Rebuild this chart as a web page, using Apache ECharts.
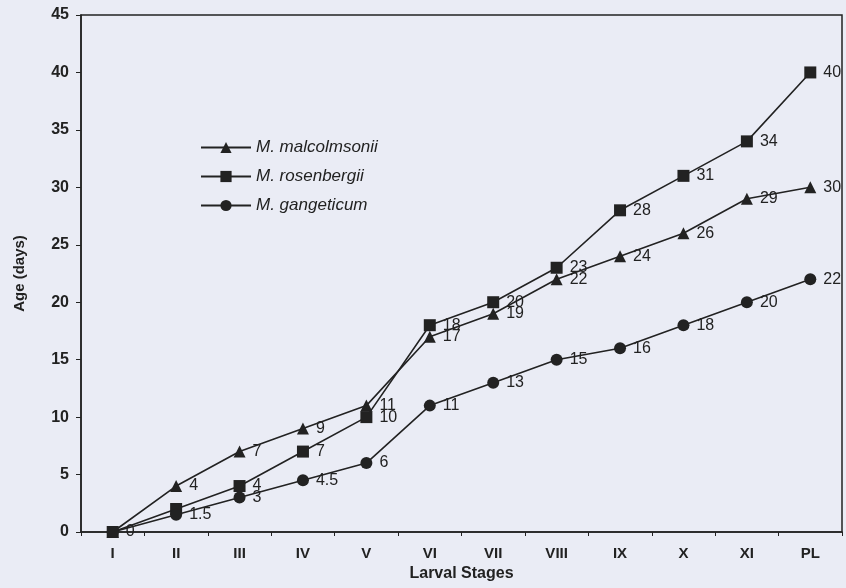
<!DOCTYPE html>
<html>
<head>
<meta charset="utf-8">
<script src="https://cdn.jsdelivr.net/npm/echarts@6/dist/echarts.min.js"></script>
<style>
  html, body { margin: 0; padding: 0; background: #eaecf5; }
  #chart { width: 846px; height: 588px; }
</style>
</head>
<body>
<div id="chart"></div>
<script>
// larval stages on the x axis
const stages = ['I', 'II', 'III', 'IV', 'V', 'VI', 'VII', 'VIII', 'IX', 'X', 'XI', 'PL']
// age (days) for each species
const malcolmsonii = [0, 4, 7, 9, 11, 17, 19, 22, 24, 26, 29, 30]
const rosenbergii = [0, 2, 4, 7, 10, 18, 20, 23, 28, 31, 34, 40]
const gangeticum = [0, 1.5, 3, 4.5, 6, 11, 13, 15, 16, 18, 20, 22]
const yTicks = [0, 5, 10, 15, 20, 25, 30, 35, 40, 45]

const font = 'Liberation Sans, Arial, sans-serif'
const ink = '#222'

// points whose value label is not printed in the figure
function withLabels(values, hidden) {
    return values.map((v, i) => hidden.includes(i) ? { value: v, label: { show: false } } : v)
}

function makeSeries(name, symbol, size, values, hidden) {
    return {
        name: name,
        type: 'line',
        symbol: symbol,
        symbolSize: size,
        lineStyle: { color: ink, width: 1.6 },
        itemStyle: { color: ink },
        label: {
            show: true,
            position: 'right',
            distance: 7,
            color: ink,
            fontFamily: font,
            fontSize: 16
        },
        data: withLabels(values, hidden)
    }
}

const myChart = echarts.init(document.getElementById('chart'))
myChart.setOption({
    backgroundColor: '#eaecf5',
    animation: false,
    grid: {
        left: 81,
        right: 4,
        top: 15,
        bottom: 56,
        show: true,
        borderColor: ink,
        borderWidth: 1.5
    },
    legend: {
        orient: 'vertical',
        left: 195,
        top: 134,
        itemWidth: 50,
        itemHeight: 14,
        itemGap: 12,
        textStyle: {
            fontFamily: font,
            fontStyle: 'italic',
            fontSize: 17,
            color: ink
        },
        formatter: name => 'M. ' + name,
        data: ['malcolmsonii', 'rosenbergii', 'gangeticum']
    },
    xAxis: {
        type: 'category',
        data: stages,
        boundaryGap: true,
        name: 'Larval Stages',
        nameLocation: 'middle',
        nameGap: 33,
        nameTextStyle: { fontFamily: font, fontWeight: 'bold', fontSize: 16, color: ink },
        axisLine: { lineStyle: { color: ink, width: 1.5 } },
        axisTick: { show: true, length: 4, lineStyle: { color: ink } },
        axisLabel: { fontFamily: font, fontWeight: 'bold', fontSize: 15, color: ink, margin: 14 },
        splitLine: { show: false }
    },
    yAxis: {
        type: 'value',
        min: yTicks[0],
        max: yTicks[yTicks.length - 1],
        interval: 5,
        name: 'Age (days)',
        nameLocation: 'middle',
        nameGap: 54,
        nameTextStyle: { fontFamily: font, fontWeight: 'bold', fontSize: 15, color: ink },
        axisLine: { show: true, lineStyle: { color: ink, width: 1.5 } },
        axisTick: { show: true, length: 5, lineStyle: { color: ink } },
        axisLabel: { fontFamily: font, fontWeight: 'bold', fontSize: 16, color: ink, margin: 12 },
        splitLine: { show: false }
    },
    series: [
        makeSeries('malcolmsonii', 'triangle', 12, malcolmsonii, [0]),
        makeSeries('rosenbergii', 'rect', 12, rosenbergii, [0, 1]),
        makeSeries('gangeticum', 'circle', 12, gangeticum, [])
    ]
})
window.addEventListener('resize', () => {
    myChart.resize()
})
</script>
</body>
</html>
